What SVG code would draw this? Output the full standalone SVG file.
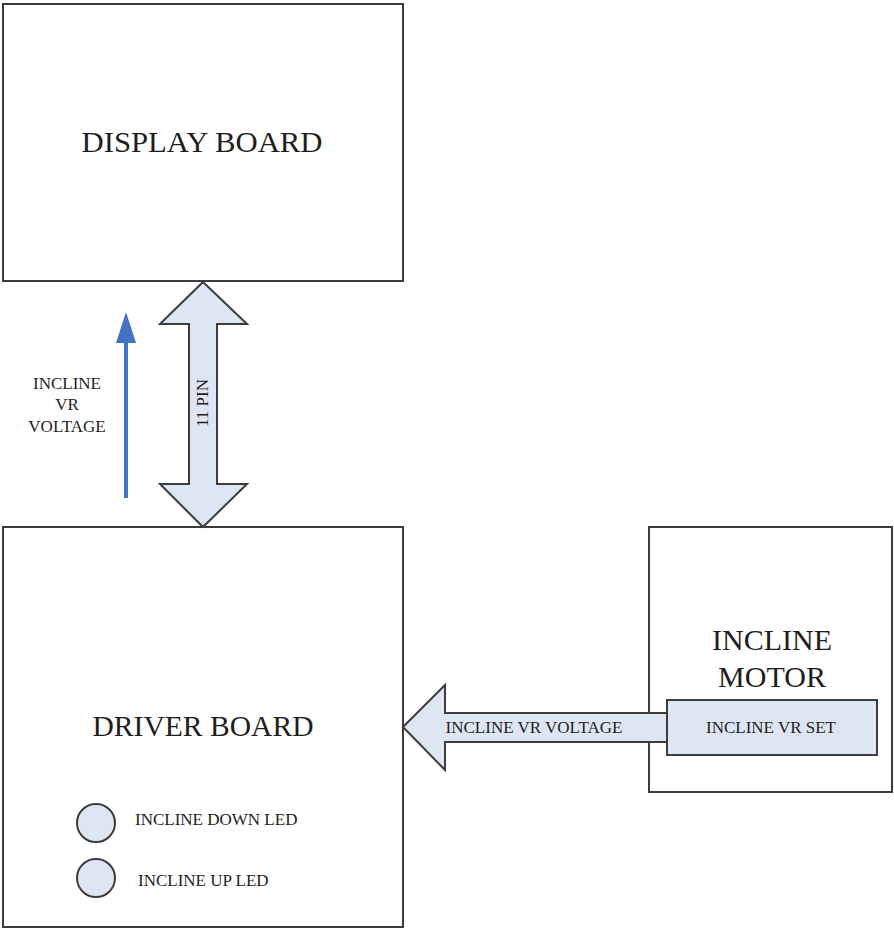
<svg xmlns="http://www.w3.org/2000/svg" width="894" height="929" viewBox="0 0 894 929">
<style>
.box{fill:#ffffff;stroke:#3c3c3c;stroke-width:2}
.fill{fill:#dde6f2;stroke:#3c3c3c;stroke-width:2}
text{font-family:"Liberation Serif","Times New Roman",serif;fill:#1e1e1e}
.big{font-size:29px;text-anchor:middle}
.mid{font-size:30px;text-anchor:middle}
.sm{font-size:17px}
.smc{font-size:17px;text-anchor:middle}
</style>
<g id="display-board">
<rect class="box" x="3" y="4" width="400" height="277"/>
<text class="big" x="202" y="152" textLength="241" lengthAdjust="spacingAndGlyphs">DISPLAY BOARD</text>
</g>
<g id="driver-board">
<rect class="box" x="3" y="527" width="400" height="400"/>
<text class="big" x="203" y="736" textLength="221" lengthAdjust="spacingAndGlyphs">DRIVER BOARD</text>
<circle class="fill" cx="96" cy="823" r="19"/>
<text class="sm" x="135" y="825">INCLINE DOWN LED</text>
<circle class="fill" cx="96" cy="878" r="19"/>
<text class="sm" x="138" y="886">INCLINE UP LED</text>
</g>
<g id="incline-motor">
<rect class="box" x="649" y="527" width="243" height="265"/>
<text class="mid" x="772" y="650">INCLINE</text>
<text class="mid" x="772" y="687">MOTOR</text>
</g>
<g id="connectors">
<path class="fill" d="M203,282 L247,324 L217,324 L217,484 L247,484 L203,527 L160,484 L189,484 L189,324 L160,324 Z"/>
<text class="smc" transform="translate(208,403) rotate(-90)">11 PIN</text>
<line x1="126" y1="498" x2="126" y2="338" stroke="#4472c4" stroke-width="4"/>
<path d="M126,312 L136,343 L116,343 Z" fill="#4472c4"/>
<text class="smc" x="67" y="389">INCLINE</text>
<text class="smc" x="67" y="410">VR</text>
<text class="smc" x="67" y="432">VOLTAGE</text>
<path class="fill" d="M403,727 L445,685 L445,713 L668,713 L668,742 L445,742 L445,770 Z"/>
<text class="smc" x="534" y="733">INCLINE VR VOLTAGE</text>
</g>
<g id="incline-vr-set">
<rect class="fill" x="667" y="700" width="210" height="55"/>
<text class="smc" x="771" y="733">INCLINE VR SET</text>
</g>
</svg>
